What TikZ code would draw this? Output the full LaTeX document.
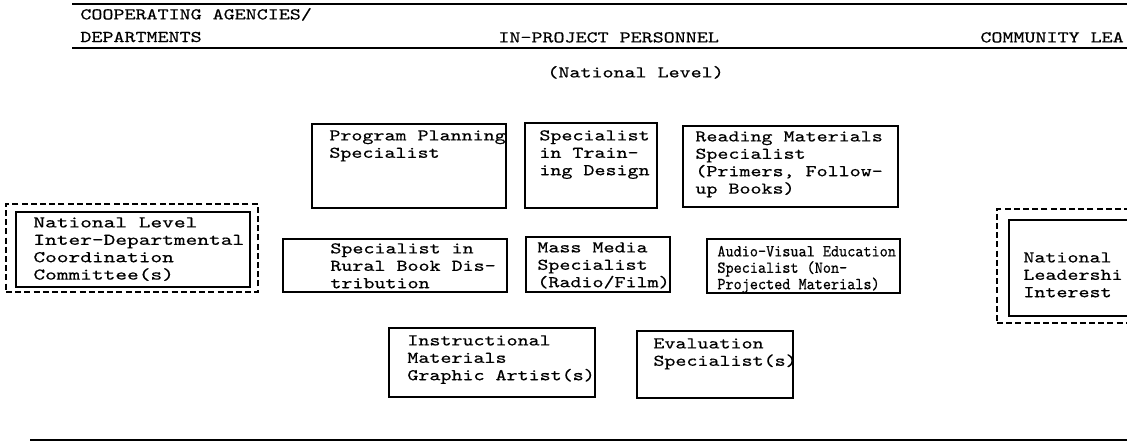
\documentclass[tikz,border=0pt]{standalone}
\usepackage{fontspec}
\setmonofont{lmmono10-regular.otf}[FakeStretch=1.28, FakeBold=0.5]
\newfontfamily\narrowtt{lmmono10-regular.otf}[FakeStretch=0.92, FakeBold=0.5]
\newfontfamily\widett{lmmono10-regular.otf}[FakeStretch=1.36, FakeBold=0.5]
\usetikzlibrary{fit}
\begin{document}
\begin{tikzpicture}[x=0.5pt,y=-0.5pt,
  rule/.style={line width=1pt},
  box/.style={draw, line width=0.7pt, inner sep=0pt},
  grp/.style={draw, line width=0.7pt, dash pattern=on 3pt off 1.6pt, inner sep=0pt},
  txt/.style={font=\ttfamily\fontsize{8.2}{8.7}\selectfont, inner sep=0pt, anchor=north west, align=left},
  narrowtxt/.style={txt, font=\narrowtt\fontsize{8.4}{8.2}\selectfont},
  widetxt/.style={txt, font=\widett\fontsize{8.2}{8.7}\selectfont},
]
\useasboundingbox (0,0) rectangle (1127,447);

% header rules
\coordinate (r1a) at (72,4);    \coordinate (r1b) at (1127,4);
\coordinate (r2a) at (72,48);   \coordinate (r2b) at (1127,48);
\coordinate (r3a) at (30,440);  \coordinate (r3b) at (1127,440);
\draw[rule] (r1a) -- (r1b);
\draw[rule] (r2a) -- (r2b);
\draw[rule] (r3a) -- (r3b);

% column headings
\node[txt] (hcoop) at (80,3) {\rule{0pt}{8pt}COOPERATING AGENCIES/\\[2.6pt]DEPARTMENTS};
\node[txt] (hproj) at (498,26) {\rule{0pt}{8pt}IN-PROJECT PERSONNEL};
\node[txt] (hcomm) at (980,26) {\rule{0pt}{8pt}COMMUNITY LEA};
\node[txt] (hlevel) at (547,61) {\rule{0pt}{8pt}(National Level)};

% first row of specialists
\node[box, fit={(312,124) (506,208)}] (pp) {};
\node[txt] (ppt) at (329,124) {\rule{0pt}{8pt}Program Planning\\Specialist};
\node[box, fit={(525,123) (657,208)}] (td) {};
\node[txt] (tdt) at (539,124) {\rule{0pt}{8pt}Specialist\\in Train-\\ing Design};
\node[box, fit={(683,126) (898,207)}] (rm) {};
\node[txt] (rmt) at (695,125) {\rule{0pt}{8pt}Reading Materials\\Specialist\\(Primers, Follow-\\up Books)};

% national coordination committee
\node[grp, fit={(6,204) (258,292)}] (cg) {};
\node[box, fit={(16,212) (250,287)}] (cc) {};
\node[widetxt] (cct) at (33,211) {\rule{0pt}{8pt}National Level\\Inter-Departmental\\Coordination\\Committee(s)};

% second row of specialists
\node[box, fit={(283,239) (507,292)}] (rb) {};
\node[txt] (rbt) at (330,237) {\rule{0pt}{8pt}Specialist in\\Rural Book Dis-\\tribution};
\node[box, fit={(526,237) (670,292)}] (mm) {};
\node[txt] (mmt) at (537,236) {\rule{0pt}{8pt}Mass Media\\Specialist\\(Radio/Film)};
\node[box, fit={(707,239) (900,293)}] (av) {};
\node[narrowtxt] (avt) at (717,240) {\rule{0pt}{8pt}Audio-Visual Education\\Specialist (Non-\\Projected Materials)};

% national leadership group
\node[grp, fit={(997,209) (1140,323)}] (lg) {};
\node[box, fit={(1009,220) (1140,316)}] (nl) {};
\node[txt] (nlt) at (1023,246) {\rule{0pt}{8pt}National\\Leadershi\\Interest};

% third row of specialists
\node[box, fit={(389,328) (595,397)}] (im) {};
\node[txt] (imt) at (407,329) {\rule{0pt}{8pt}Instructional\\Materials\\Graphic Artist(s)};
\node[box, fit={(637,331) (793,398)}] (ev) {};
\node[txt] (evt) at (653,332) {\rule{0pt}{8pt}Evaluation\\Specialist(s)};
\end{tikzpicture}
\end{document}
